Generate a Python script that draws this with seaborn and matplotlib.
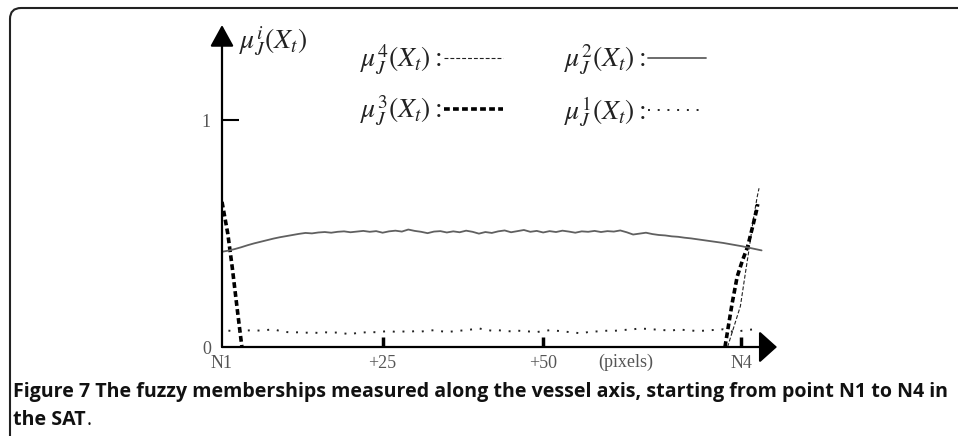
import numpy as np
import pandas as pd
import matplotlib
matplotlib.use('Agg')
import matplotlib.pyplot as plt
import matplotlib.transforms as mtransforms
from matplotlib.patches import FancyBboxPatch
import seaborn as sns

# valeurs (axe x : pixels le long du vaisseau, N1 = 0)
mu2_x = list(range(0, 85))
mu2_y = [0.420, 0.425, 0.432, 0.440, 0.449, 0.457, 0.464, 0.471, 0.478, 0.484,
         0.489, 0.494, 0.499, 0.503, 0.501, 0.505, 0.507, 0.504, 0.508, 0.510,
         0.506, 0.509, 0.512, 0.508, 0.511, 0.504, 0.510, 0.513, 0.509, 0.518,
         0.512, 0.508, 0.502, 0.509, 0.511, 0.505, 0.510, 0.506, 0.513, 0.508,
         0.500, 0.507, 0.503, 0.510, 0.514, 0.506, 0.511, 0.516, 0.508, 0.512,
         0.505, 0.511, 0.507, 0.513, 0.509, 0.504, 0.510, 0.508, 0.512, 0.507,
         0.511, 0.509, 0.514, 0.506, 0.496, 0.500, 0.504, 0.498, 0.494, 0.492,
         0.488, 0.486, 0.482, 0.479, 0.475, 0.471, 0.467, 0.463, 0.459, 0.454,
         0.449, 0.444, 0.438, 0.432, 0.426]

mu1_x = list(range(1, 84))
mu1_y = [0.072, 0.070, 0.071, 0.073, 0.074, 0.072, 0.075, 0.078, 0.071, 0.066,
         0.064, 0.065, 0.063, 0.064, 0.062, 0.065, 0.063, 0.064, 0.060, 0.056,
         0.062, 0.064, 0.066, 0.065, 0.068, 0.070, 0.067, 0.069, 0.066, 0.070,
         0.068, 0.072, 0.074, 0.070, 0.066, 0.069, 0.072, 0.074, 0.078, 0.082,
         0.076, 0.072, 0.074, 0.071, 0.069, 0.072, 0.070, 0.068, 0.066, 0.070,
         0.074, 0.072, 0.069, 0.066, 0.063, 0.060, 0.066, 0.068, 0.070, 0.072,
         0.071, 0.074, 0.076, 0.078, 0.082, 0.080, 0.078, 0.076, 0.074, 0.072,
         0.078, 0.075, 0.073, 0.070, 0.072, 0.074, 0.076, 0.078, 0.070, 0.066,
         0.072, 0.076, 0.078]

mu3_n1_x = [0.0, 0.9, 1.6, 2.4, 3.1]
mu3_n1_y = [0.64, 0.50, 0.35, 0.16, 0.0]
mu3_n4_x = [78.3, 79.4, 80.2, 81.0, 81.8, 82.6, 83.2, 83.4]
mu3_n4_y = [0.0, 0.19, 0.31, 0.38, 0.44, 0.53, 0.60, 0.63]
mu4_n4_x = [78.7, 80.7, 81.5, 82.1, 82.7, 83.3, 83.6]
mu4_n4_y = [0.0, 0.18, 0.33, 0.44, 0.56, 0.66, 0.70]

x_ticks = [0, 25, 50, 80.8]
x_labels = ['N1', '+25', '+50', 'N4']
y_ticks = [0, 1]
y_labels = ['0', '1']

sns.set_style('white')
plt.rcParams['mathtext.fontset'] = 'stix'

fig = plt.figure(figsize=(9.58, 4.36), dpi=100)
ax = fig.add_axes([222 / 958, (436 - 347) / 436, (777 - 222) / 958, (347 - 25) / 436])

# courbes d'appartenance
sns.lineplot(x=mu4_n4_x, y=mu4_n4_y, ax=ax, color='#222222', lw=0.8,
             linestyle=(0, (3.5, 1.8)), estimator=None, sort=False)
sns.lineplot(x=mu3_n1_x, y=mu3_n1_y, ax=ax, color='black', lw=2.6,
             linestyle=(0, (1.6, 0.9)), estimator=None, sort=False)
sns.lineplot(x=mu3_n4_x, y=mu3_n4_y, ax=ax, color='black', lw=2.6,
             linestyle=(0, (1.6, 0.9)), estimator=None, sort=False)
sns.lineplot(x=mu2_x, y=mu2_y, ax=ax, color='#606060', lw=1.3, estimator=None)
sns.lineplot(x=mu1_x, y=mu1_y, ax=ax, color='#222222', lw=1.4,
             linestyle=(0, (1, 4)), estimator=None)
h4, h3a, h3b, h2, h1 = ax.lines

ax.set_xlim(0, 86.4)
ax.set_ylim(0, 1.42)
for s in ax.spines.values():
    s.set_visible(False)

# axes avec fleches
ax.annotate('', xy=(1, 0), xytext=(0, 0), xycoords='axes fraction',
            arrowprops=dict(arrowstyle='-|>,head_length=0.5,head_width=0.45',
                            lw=1.6, color='black', mutation_scale=22,
                            shrinkA=0, shrinkB=0))
ax.annotate('', xy=(0, 1), xytext=(0, 0), xycoords='axes fraction',
            arrowprops=dict(arrowstyle='-|>,head_length=0.6,head_width=0.33',
                            lw=1.6, color='black', mutation_scale=22,
                            shrinkA=0, shrinkB=0))

tick_font = dict(family='Liberation Serif', size=13, color='#555555')
ax.set_xticks(x_ticks)
ax.set_xticklabels(x_labels, fontdict=tick_font)
ax.set_yticks(y_ticks)
ax.set_yticklabels(y_labels, fontdict=tick_font)
ax.tick_params(axis='x', bottom=True, direction='in', length=7, width=2.5, pad=6, color='black')
ax.tick_params(axis='y', left=True, direction='in', length=12, width=1.5, pad=8, color='black')
ax.xaxis.get_major_ticks()[0].tick1line.set_visible(False)
ax.yaxis.get_major_ticks()[0].tick1line.set_visible(False)
fig.text(626 / 958, 1 - 362 / 436, '(pixels)', ha='center', va='center',
         family='Liberation Serif', size=13, color='#555555')

# etiquette de l'axe y
fig.text(239 / 958, 1 - 42 / 436, r'$\mu_J^i(X_t)$', ha='left', va='center',
         size=20, color='#222222')

# legende (libelle puis echantillon de trait)
leg = fig.legend([h4, h3a, h2, h1],
                 [r'$\mu_J^4(X_t):$', r'$\mu_J^3(X_t):$',
                  r'$\mu_J^2(X_t):$', r'$\mu_J^1(X_t):$'],
                 ncol=2, markerfirst=False, frameon=False, fontsize=20,
                 loc='upper left', bbox_to_anchor=(360 / 958, 1 - 43 / 436),
                 handlelength=2.1, handletextpad=0.1, columnspacing=2.2,
                 labelspacing=0.6, borderpad=0, borderaxespad=0)
for t in leg.get_texts():
    t.set_color('#222222')

# legende de la figure
fig.text(13 / 958, 1 - 397 / 436,
         'Figure 7 The fuzzy memberships measured along the vessel axis, starting from point N1 to N4 in',
         family='Open Sans', fontweight='bold', size=14.1, va='baseline', color='#111111')
t2 = fig.text(13 / 958, 1 - 425 / 436, 'the SAT', family='Open Sans',
              fontweight='bold', size=14.1, va='baseline', color='#111111')
ax.annotate('.', xy=(1, 0), xycoords=t2, xytext=(1, 0), textcoords='offset points',
            va='bottom', ha='left', family='Open Sans', size=14.1, color='#111111')

# cadre arrondi autour de la figure
frame = FancyBboxPatch((10, -30), 980, 436 - 8 + 30,
                       boxstyle='round,pad=0,rounding_size=11',
                       transform=mtransforms.IdentityTransform(),
                       fill=False, lw=1.5, edgecolor='#222222')
fig.patches.append(frame)

fig.savefig('out.png', dpi=100)
